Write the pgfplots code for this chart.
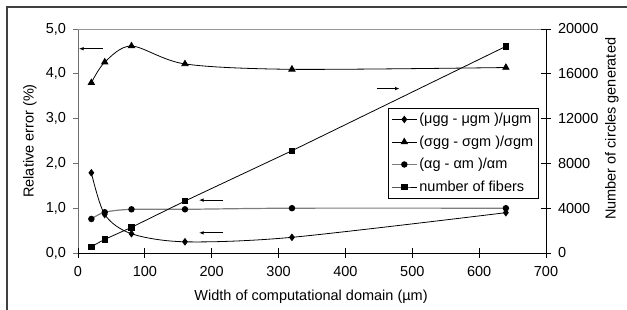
\documentclass[border=0pt]{standalone}
\usepackage{fontspec}
\setmainfont{Liberation Sans}
\usepackage{pgfplots}
\pgfplotsset{compat=1.18}
\usetikzlibrary{arrows.meta}
\definecolor{axgray}{RGB}{110,110,110}
\definecolor{lngray}{RGB}{125,125,125}
\newcommand{\fs}{\fontsize{14.5pt}{17pt}\selectfont}
\begin{document}
\begin{tikzpicture}[font=\fs]
\path[use as bounding box] (0,0) rectangle (627pt,310pt);
\draw[line width=2pt, color=black!75] (7pt,0) -- (7pt,303pt) -- (627pt,303pt);
% left axis with error series
\begin{axis}[at={(78pt,57pt)}, anchor=south west, scale only axis,
  width=468pt, height=224pt,
  xmin=0, xmax=700, ymin=0, ymax=5,
  axis x line*=bottom, axis y line*=left,
  xtick=\empty,
  ytick={0,1,2,3,4,5},
  ytick align=outside, major tick length=5pt,
  y axis line style={draw=axgray, line width=0.9pt},
  x axis line style={draw=black, line width=0.9pt, -},
  y tick style={draw=axgray, line width=0.9pt},
  every axis y line/.append style={-},
  yticklabel style={font=\fs, xshift=-3.5pt},
  /pgf/number format/fixed, /pgf/number format/fixed zerofill,
  /pgf/number format/precision=1, /pgf/number format/use comma,
  /pgf/number format/assume math mode=true,
  ylabel={Relative error (\%)},
  ylabel style={font=\fs, at={(axis description cs:-0.1026,0.5)}, anchor=center},
  clip=false,
]
\addplot[black, line width=0.8pt, smooth, mark=diamond*, mark size=3.2pt, mark options={solid, fill=black}] coordinates {
(20,1.79) (40,0.86) (80,0.43) (160,0.25) (320,0.35) (640,0.90)};
\addplot[black, line width=0.8pt, smooth, mark=triangle*, mark size=3.6pt, mark options={solid, fill=black}] coordinates {
(20,3.80) (40,4.26) (80,4.62) (160,4.22) (320,4.10) (640,4.14)};
\addplot[lngray, line width=1.2pt, smooth, mark=*, mark size=2.6pt, mark options={solid, fill=black, draw=black}] coordinates {
(20,0.76) (40,0.91) (80,0.975) (160,0.975) (320,1.0) (640,1.0)};
\draw[lngray!80, line width=0.8pt] (axis description cs:0,1) -- (axis description cs:1,1);
\draw[line width=0.8pt, -{Latex[length=4.5pt,width=3.5pt]}] (axis cs:37,4.56) -- (axis cs:1.5,4.56);
\draw[line width=0.8pt, -{Latex[length=4.5pt,width=3.5pt]}] (axis cs:447,3.67) -- (axis cs:481,3.67);
\draw[line width=0.8pt, -{Latex[length=4.5pt,width=3.5pt]}] (axis cs:217,1.18) -- (axis cs:181,1.18);
\draw[line width=0.8pt, -{Latex[length=4.5pt,width=3.5pt]}] (axis cs:217,0.45) -- (axis cs:181,0.45);
\end{axis}
% right axis with fibers
\begin{axis}[at={(78pt,57pt)}, anchor=south west, scale only axis,
  width=468pt, height=224pt,
  xmin=0, xmax=700, ymin=0, ymax=20000,
  axis x line*=bottom, axis y line*=right,
  xtick={0,100,...,700},
  ytick={0,4000,...,20000},
  scaled y ticks=false,
  tick align=center, major tick length=10pt,
  axis line style={draw=black, line width=0.9pt, -},
  tick style={draw=black, line width=0.9pt},
  xticklabel style={font=\fs, yshift=-5pt},
  yticklabel style={font=\fs, xshift=3.5pt},
  /pgf/number format/1000 sep={}, /pgf/number format/assume math mode=true,
  xlabel={Width of computational domain (µm)},
  xlabel style={font=\fs, at={(axis description cs:0.498,-0.196)}, anchor=center},
  ylabel={Number of circles generated},
  ylabel style={font=\fs, at={(axis description cs:1.141,0.554)}, anchor=center},
  legend style={at={(axis description cs:0.662,0.647)}, anchor=north west,
    draw=black, line width=0.8pt, fill=white, font=\fs, row sep=6.5pt,
    inner xsep=3pt, inner ysep=3pt},
  legend cell align=left,
  legend image code/.code={\draw[mark repeat=2, mark phase=2, #1] plot coordinates {(0pt,0pt) (12.5pt,0pt) (25pt,0pt)};},
  clip=false,
]
\addlegendimage{black, line width=0.8pt, mark=diamond*, mark size=3.2pt, mark options={solid, fill=black}}
\addlegendentry{(μgg - μgm )/μgm}
\addlegendimage{black, line width=0.8pt, mark=triangle*, mark size=3.6pt, mark options={solid, fill=black}}
\addlegendentry{(σgg - σgm )/σgm}
\addlegendimage{lngray, line width=1.2pt, mark=*, mark size=2.6pt, mark options={solid, fill=black, draw=black}}
\addlegendentry{(αg - αm )/αm}
\addplot[black, line width=0.8pt, mark=square*, mark size=2.6pt, mark options={solid, fill=black}] coordinates {
(20,570) (40,1220) (80,2290) (160,4640) (320,9130) (640,18450)};
\addlegendentry{number of fibers}
\end{axis}
\end{tikzpicture}
\end{document}
